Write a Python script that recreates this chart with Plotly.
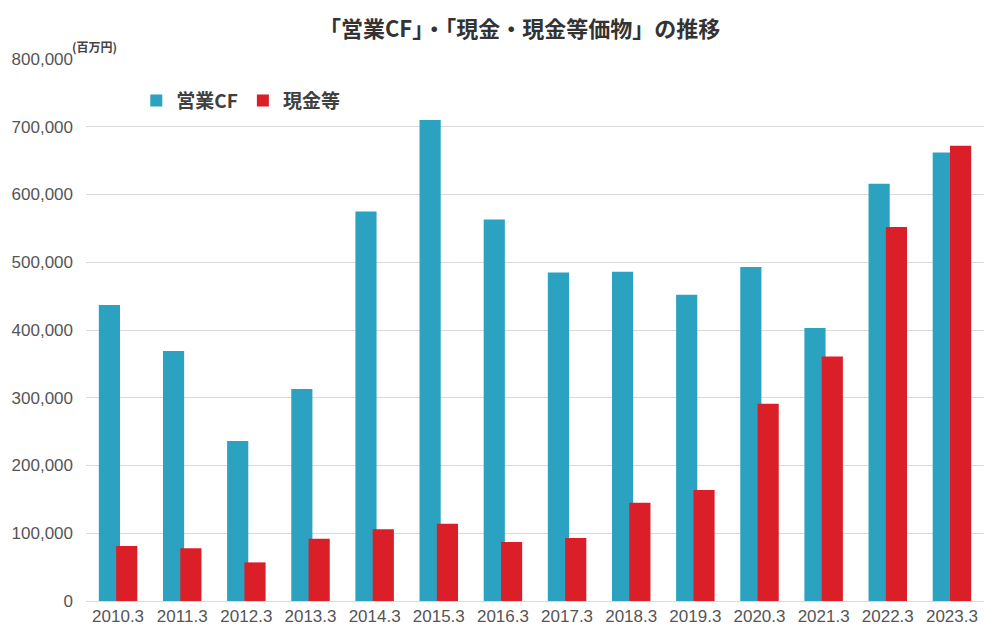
import plotly.graph_objects as go

categories = ["2010.3", "2011.3", "2012.3", "2013.3", "2014.3", "2015.3", "2016.3",
              "2017.3", "2018.3", "2019.3", "2020.3", "2021.3", "2022.3", "2023.3"]
operating_cf = [437000, 369000, 236000, 313000, 575000, 710000, 563000,
                485000, 486000, 452000, 493000, 403000, 616000, 662000]
cash = [81000, 78000, 57000, 92000, 106000, 114000, 87000,
        93000, 145000, 164000, 291000, 361000, 552000, 672000]
tick_vals = [0, 100000, 200000, 300000, 400000, 500000, 600000, 700000, 800000]

CF_COLOR = "#2BA2C0"
CASH_COLOR = "#DA1F29"

fig = go.Figure()
fig.add_trace(go.Bar(x=categories, y=operating_cf, name="営業CF",
                     marker=dict(color=CF_COLOR, line=dict(width=0)),
                     width=0.33, offset=-0.30))
fig.add_trace(go.Bar(x=categories, y=cash, name="現金等",
                     marker=dict(color=CASH_COLOR, line=dict(width=0)),
                     width=0.33, offset=-0.03))

# page body has an 8px margin; margins compensate so the plot area matches
fig.update_layout(
    width=1007, height=642,
    barmode="overlay",
    paper_bgcolor="white", plot_bgcolor="white",
    margin=dict(l=78, r=31, t=51, b=49, autoexpand=False),
    title=dict(text="「営業CF」・「現金・現金等価物」の推移",
               x=0.508, xanchor="center", y=0.967, yanchor="middle",
               font=dict(family="Noto Sans CJK JP", size=22, color="#333333", weight="bold")),
    legend=dict(orientation="h", x=0.056, y=0.923, xanchor="left", yanchor="middle",
                font=dict(family="Noto Sans CJK JP", size=19, color="#404040", weight="bold"),
                bgcolor="rgba(0,0,0,0)", itemwidth=30, traceorder="normal"),
    xaxis=dict(type="category", showgrid=False, ticks="", showline=True,
               linecolor="#d9d9d9", linewidth=1, automargin=False,
               tickfont=dict(family="Arial, Liberation Sans", size=17, color="#555555")),
    yaxis=dict(range=[0, 800000], tickvals=tick_vals, tickformat=",d",
               showgrid=True, gridcolor="#d9d9d9", gridwidth=1, zeroline=False,
               ticks="", ticklabelstandoff=12, automargin=False,
               tickfont=dict(family="Arial, Liberation Sans", size=17, color="#555555")),
    annotations=[dict(text="(百万円)", xref="paper", yref="paper", x=-0.018, y=1.003,
                      xanchor="left", yanchor="bottom", showarrow=False,
                      font=dict(family="Noto Sans CJK JP", size=12, color="#444444", weight="bold"))],
)

fig.write_html("out.html")
